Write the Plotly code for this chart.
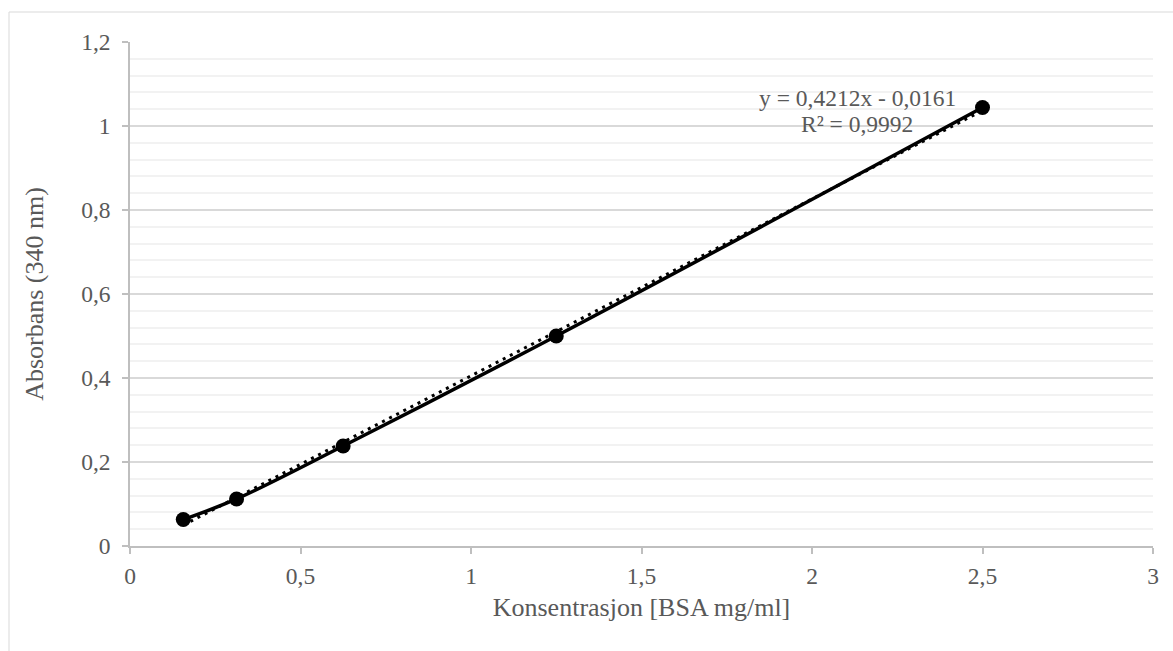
import plotly.graph_objects as go

# Data
konsentrasjon = [0.15625, 0.3125, 0.625, 1.25, 2.5]
absorbans = [0.063, 0.112, 0.238, 0.500, 1.044]
slope = 0.4212
intercept = -0.0161
r2 = 0.9992
eq_label = "y = 0,4212x - 0,0161"
r2_label = "R² = 0,9992"

trend_x = [min(konsentrasjon), max(konsentrasjon)]
trend_y = [slope * v + intercept for v in trend_x]

FONT = "Liberation Serif, Times New Roman, serif"
TXT = "#595959"
AX = "#bfbfbf"

fig = go.Figure()
fig.add_trace(go.Scatter(
    x=trend_x, y=trend_y, mode="lines",
    line=dict(color="black", width=3, dash="3px,5px"),
    showlegend=False, hoverinfo="skip"))
fig.add_trace(go.Scatter(
    x=konsentrasjon, y=absorbans, mode="lines+markers",
    line=dict(color="black", width=3.5, shape="spline", smoothing=1),
    marker=dict(color="black", size=15),
    showlegend=False))

W, H = 1173, 651
L, R, T, B = 130, 20, 42, 105
pw, ph = W - L - R, H - T - B

fig.add_shape(type="rect", xref="paper", yref="paper",
              x0=(9 - L) / pw, x1=(W + 5 - L) / pw,
              y0=-(H + 5 - T - ph) / ph, y1=(H - B - 12) / ph,
              line=dict(color="#d9d9d9", width=1), layer="below")

fig.add_annotation(x=2.132, y=(546 - 98) / 420, xref="x", yref="y",
                   text=eq_label, showarrow=False,
                   font=dict(family=FONT, size=23.5, color=TXT),
                   xanchor="center", yanchor="middle")
fig.add_annotation(x=2.132, y=(546 - 124) / 420, xref="x", yref="y",
                   text=r2_label, showarrow=False,
                   font=dict(family=FONT, size=23.5, color=TXT),
                   xanchor="center", yanchor="middle")

fig.update_layout(
    width=W, height=H,
    margin=dict(l=L, r=R, t=T, b=B, autoexpand=False),
    paper_bgcolor="white", plot_bgcolor="white",
    separators=", ",
    font=dict(family=FONT, color=TXT, size=23.5),
)
fig.update_xaxes(
    range=[0, 3], dtick=0.5, tick0=0,
    showgrid=False, zeroline=False,
    showline=True, linecolor=AX, linewidth=1.5,
    ticks="outside", ticklen=6, tickcolor=AX, tickwidth=1.5,
    tickfont=dict(family=FONT, size=23.5, color=TXT),
    ticklabelstandoff=2,
    title=dict(text="Konsentrasjon [BSA mg/ml]",
               font=dict(family=FONT, size=26, color=TXT), standoff=10),
)
fig.update_yaxes(
    range=[0, 1.2], dtick=0.2, tick0=0,
    showgrid=True, gridcolor="#d9d9d9", gridwidth=1.5,
    minor=dict(dtick=0.04, showgrid=True, gridcolor="#f2f2f2", gridwidth=1.5),
    zeroline=False,
    showline=True, linecolor=AX, linewidth=1.5,
    ticks="outside", ticklen=6, tickcolor=AX, tickwidth=1.5,
    tickfont=dict(family=FONT, size=23.5, color=TXT),
    ticklabelstandoff=7,
    title=dict(text="Absorbans (340 nm)",
               font=dict(family=FONT, size=26, color=TXT), standoff=30),
)

fig.write_html("out.html")
